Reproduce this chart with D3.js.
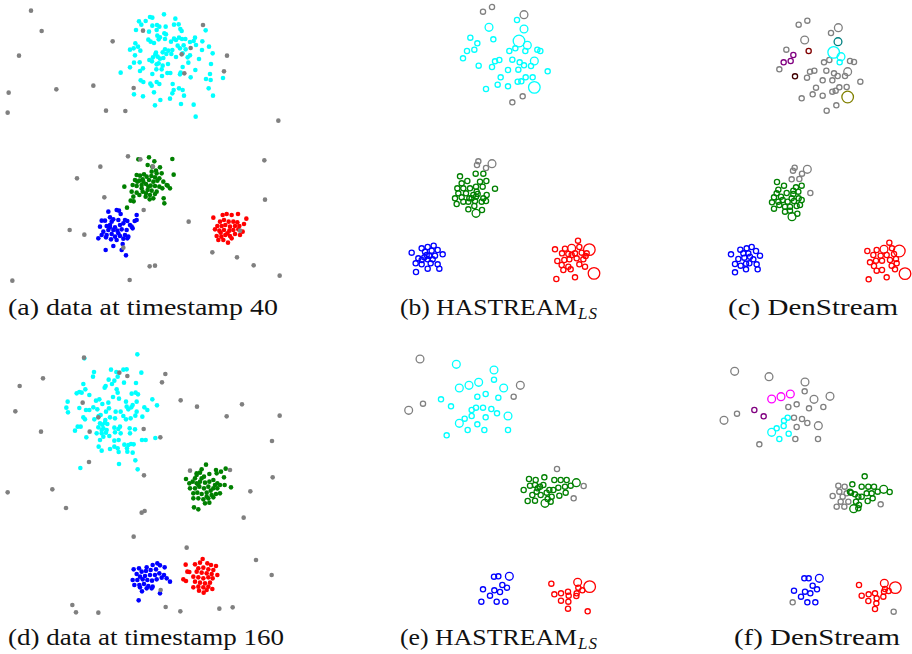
<!DOCTYPE html>
<html>
<head>
    <meta charset="UTF-8">
    <title>HASTREAM vs DenStream</title>
    <script src="https://d3js.org/d3.v7.min.js"></script>
    <style>
        body { margin: 0; background: #fff; }
        svg { font-family: "Liberation Serif", "DejaVu Serif", serif; }
        .cap { font-size: 23px; fill: #111; }
    </style>
</head>
<body>
    <svg></svg>
    <script>
        // all coordinates are in panel units (1 unit = 1/3 px), origin at each panel's top-left

        // ---- (a) data at timestamp 40 ----
        const aCyan = [[492,43],[450,51],[457,53],[526,56],[417,64],[437,63],[424,74],[457,77],[471,75],[478,80],[497,80],[522,74],[536,73],[541,87],[545,93],[408,90],[447,95],[470,90],[493,100],[498,103],[617,91],[472,107],[480,112],[445,119],[452,125],[462,129],[476,118],[495,117],[522,116],[537,113],[546,117],[556,117],[585,113],[513,125],[528,120],[570,126],[581,123],[607,124],[406,130],[414,140],[401,145],[390,149],[421,152],[468,158],[466,163],[488,157],[495,148],[505,152],[517,150],[533,137],[540,145],[551,136],[557,148],[588,135],[627,140],[606,150],[638,160],[405,166],[459,172],[473,170],[480,176],[490,174],[499,162],[514,162],[528,171],[548,160],[563,172],[570,166],[448,180],[456,184],[470,193],[476,190],[488,197],[504,192],[565,188],[597,177],[633,192],[419,187],[402,188],[390,202],[429,205],[420,213],[469,208],[485,208],[502,219],[511,219],[548,201],[542,218],[540,223],[586,210],[362,218],[457,222],[486,228],[572,232],[618,237],[630,222],[632,240],[669,234],[422,241],[430,246],[451,251],[455,257],[470,246],[478,252],[518,252],[521,270],[517,280],[537,265],[548,270],[626,265],[402,283],[429,289],[462,277],[552,287],[639,287],[481,300],[510,296],[465,316],[543,312],[581,314],[587,350]];
        const aGreen = [[415,478],[447,472],[463,484],[517,477],[443,495],[457,500],[480,502],[468,512],[485,520],[521,524],[410,525],[420,527],[432,523],[440,530],[454,528],[465,532],[478,535],[405,540],[418,542],[428,538],[447,540],[460,545],[472,542],[490,545],[503,557],[510,565],[373,560],[398,555],[410,558],[425,555],[438,552],[452,557],[465,558],[478,560],[395,575],[410,578],[428,575],[443,570],[455,572],[470,575],[487,565],[400,590],[418,585],[437,590],[450,585],[460,595],[438,580],[392,602],[401,604],[449,598],[491,595],[493,610],[381,623],[465,582],[430,545],[412,545],[445,560],[500,555],[425,565],[470,520],[455,515]];
        const aBlue = [[325,635],[350,630],[357,632],[410,645],[362,642],[330,652],[340,658],[305,662],[315,662],[335,665],[355,660],[375,660],[382,663],[404,663],[410,660],[300,680],[320,678],[330,682],[345,682],[360,675],[370,670],[390,675],[398,685],[310,695],[325,690],[340,690],[352,692],[365,688],[380,690],[395,680],[305,705],[320,705],[335,702],[345,710],[360,708],[375,705],[385,710],[295,715],[318,712],[333,718],[350,720],[370,716],[382,715],[340,738],[317,750],[365,750],[378,766],[368,732],[330,675],[355,700]];
        const aRed = [[640,653],[668,645],[680,642],[695,645],[714,642],[660,665],[672,660],[686,665],[700,665],[712,667],[739,656],[652,678],[665,678],[676,675],[690,680],[705,678],[718,678],[732,672],[645,688],[658,692],[672,690],[688,692],[700,690],[715,688],[728,695],[650,708],[664,710],[676,705],[690,708],[705,702],[720,705],[655,720],[670,720],[684,728],[695,715],[662,698],[682,700]];
        const aGray = [[93,32],[125,93],[57,167],[26,278],[23,338],[169,268],[280,257],[318,332],[376,333],[401,264],[338,124],[429,92],[609,75],[545,163],[572,144],[553,220],[681,167],[672,214],[835,362],[384,469],[421,478],[301,500],[231,535],[313,592],[431,630],[209,690],[253,704],[370,743],[566,665],[637,757],[711,772],[761,796],[839,827],[793,481],[795,599],[449,799],[465,797],[389,840],[37,842],[720,692],[459,500]];

        // ---- (b) HASTREAM_LS at 40: [x, y, weight] ----
        const bCyan = [[366,60,1],[282,82,2],[387,87,2],[226,113,1],[247,130,1],[295,118,1],[372,123,3],[397,136,2],[238,149,1],[216,153,1],[343,153,1],[361,145,1],[391,153,1],[427,149,1],[436,153,1],[204,175,1],[300,184,1],[313,180,1],[352,179,1],[374,187,1],[418,183,2],[251,197,1],[291,201,1],[387,196,1],[408,198,1],[339,210,1],[370,209,1],[458,214,1],[317,232,1],[392,232,1],[413,232,1],[368,245,1],[379,244,1],[308,254,1],[339,259,1],[273,267,1],[418,262,3]];
        const bGreen = [[195,529,1],[242,521,1],[265,521,1],[200,550,1],[217,543,1],[255,545,1],[274,543,1],[187,565,1],[205,565,1],[225,565,1],[243,560,1],[263,560,1],[300,566,1],[190,580,1],[213,580,1],[235,585,1],[248,582,1],[275,585,1],[180,595,1],[200,592,1],[223,595,1],[243,590,1],[265,595,1],[185,612,1],[205,605,1],[220,605,1],[240,603,1],[260,605,1],[273,603,1],[220,628,1],[238,618,1],[261,630,1],[243,640,2],[245,575,1],[230,595,1]];
        const bBlue = [[80,745,1],[98,741,1],[116,737,1],[50,758,1],[90,755,1],[110,752,1],[128,750,1],[143,763,1],[70,775,1],[88,772,1],[103,768,1],[120,767,1],[80,780,1],[98,778,1],[113,778,1],[62,790,1],[80,793,1],[107,790,1],[128,793,1],[98,806,1],[133,806,1],[63,816,1],[95,765,1]];
        const bRed = [[549,722,1],[480,748,1],[510,746,1],[530,745,2],[553,741,1],[583,749,3],[501,760,1],[520,762,1],[540,760,1],[560,758,1],[575,760,1],[487,783,1],[508,780,1],[523,778,1],[545,775,1],[565,778,1],[572,768,1],[500,795,1],[520,800,1],[553,793,1],[570,800,1],[505,810,1],[527,808,1],[597,820,3],[484,837,1],[540,832,1],[530,765,1]];
        const bGray = [[264,35,1],[291,21,1],[387,44,2],[352,307,1],[383,289,1],[250,484,1],[246,495,1],[273,504,1],[291,491,2]];

        // ---- (c) DenStream at 40 ----
        const cGray = [[266,74,1],[292,62,1],[385,83,2],[363,99,1],[284,120,2],[229,149,1],[208,208,1],[342,187,1],[358,180,1],[420,183,1],[432,186,1],[349,212,1],[372,220,1],[383,228,1],[405,228,1],[413,215,2],[300,215,1],[313,212,1],[291,233,1],[338,241,1],[367,241,1],[451,245,1],[318,263,1],[388,262,1],[410,261,1],[367,275,1],[377,272,1],[308,283,1],[338,287,1],[275,295,1],[379,316,1],[350,332,1],[254,503,1],[249,512,1],[268,537,1],[276,521,1],[292,508,2],[245,538,1],[301,579,1]];
        const cTeal = [[384,125,2]];
        const cMaroon = [[296,153,1]];
        const cPurple = [[250,165,1],[242,183,1],[221,187,1]];
        const cDark = [[255,229,1]];
        const cCyan = [[371,157,3],[393,170,2],[389,187,1]];
        const cOlive = [[413,291,3]];
        const cGreen = [[201,546,1],[222,557,1],[205,569,1],[258,562,1],[275,557,1],[265,575,1],[192,592,1],[213,590,1],[230,579,1],[250,582,1],[245,595,1],[266,595,1],[275,600,1],[186,607,1],[205,605,1],[218,600,1],[233,605,1],[252,603,1],[270,615,1],[192,626,1],[208,615,1],[225,620,1],[240,620,1],[260,618,1],[225,635,1],[240,632,1],[262,641,1],[246,650,2],[200,580,1],[250,572,1]];
        const cBlue = [[63,763,1],[91,749,1],[110,745,1],[125,741,1],[138,753,1],[150,767,1],[85,777,1],[103,773,1],[120,770,1],[130,778,1],[75,792,1],[92,797,1],[108,791,1],[118,790,1],[140,793,1],[108,808,1],[143,808,1],[75,817,1],[100,760,1],[115,760,1]];
        const cRed = [[538,728,1],[472,753,1],[500,750,1],[522,748,2],[546,745,1],[568,753,3],[490,765,1],[512,767,1],[530,765,1],[552,762,1],[480,787,1],[498,782,1],[516,782,1],[540,780,1],[558,777,1],[560,790,1],[492,798,1],[516,810,1],[545,797,1],[555,808,1],[500,812,1],[530,832,1],[476,838,1],[585,821,3]];

        // ---- (d) data at timestamp 160 ----
        const dCyan = [[412,73],[253,85],[282,126],[279,140],[333,119],[349,126],[370,119],[380,118],[424,128],[353,140],[326,149],[343,152],[336,162],[372,158],[408,159],[250,162],[317,168],[314,173],[350,178],[353,188],[230,190],[238,186],[245,188],[256,178],[268,195],[395,191],[407,188],[414,193],[203,215],[288,212],[298,208],[307,222],[325,218],[339,201],[357,206],[378,215],[398,225],[410,215],[457,208],[471,226],[199,233],[238,234],[258,240],[268,240],[280,232],[292,238],[318,245],[327,235],[347,245],[362,245],[380,230],[385,238],[394,232],[410,245],[433,232],[442,240],[204,247],[250,262],[255,268],[283,268],[296,258],[302,255],[316,270],[330,262],[345,265],[370,258],[378,268],[392,265],[406,257],[427,260],[300,280],[307,284],[315,278],[322,282],[295,292],[310,295],[320,300],[343,293],[355,297],[360,290],[389,295],[405,298],[225,302],[233,290],[242,290],[305,310],[318,308],[328,318],[345,307],[362,310],[390,310],[259,322],[300,330],[343,332],[356,330],[373,344],[385,345],[393,342],[401,343],[426,330],[437,330],[466,324],[296,350],[305,362],[330,357],[343,350],[353,355],[356,366],[381,355],[382,365],[398,368],[406,391],[413,418],[357,402],[241,414],[305,300],[290,310],[310,320]];
        const dGreen = [[558,447],[590,435],[600,428],[612,440],[628,432],[650,430],[663,425],[672,442],[674,465],[693,472],[568,460],[578,455],[590,460],[600,455],[615,458],[628,455],[640,450],[652,460],[660,465],[570,475],[585,475],[598,470],[612,475],[625,470],[640,475],[652,475],[580,490],[592,488],[605,492],[620,488],[635,495],[648,492],[660,490],[580,505],[595,505],[610,508],[625,505],[640,502],[615,520],[628,518],[582,532],[595,538],[605,445],[620,500],[618,404],[605,418],[648,420],[677,416],[590,430],[585,445],[595,465],[632,482],[645,465]];
        const dBlue = [[401,718],[417,715],[440,712],[458,705],[472,700],[480,706],[494,712],[410,732],[425,725],[438,723],[452,720],[468,718],[420,740],[435,738],[450,735],[465,735],[478,730],[492,735],[500,745],[398,750],[412,750],[428,748],[442,750],[456,752],[470,748],[485,743],[510,755],[403,765],[418,765],[432,762],[445,768],[458,770],[420,772],[440,775],[426,784],[480,790],[416,811],[455,775]];
        const dRed = [[608,687],[600,698],[622,700],[557,704],[585,703],[633,705],[648,708],[595,715],[610,713],[625,718],[640,720],[562,725],[568,726],[590,725],[605,728],[620,730],[635,732],[652,735],[580,740],[595,742],[610,745],[625,742],[638,745],[550,748],[558,753],[585,755],[600,758],[615,760],[630,758],[595,770],[610,772],[625,770],[637,777],[580,772],[597,782],[611,788],[620,780]];
        const dGray = [[252,83],[129,145],[59,168],[46,244],[123,305],[248,218],[269,305],[295,262],[358,128],[382,138],[496,132],[486,157],[542,211],[591,230],[680,259],[726,223],[839,257],[816,333],[818,442],[431,297],[481,322],[267,396],[432,436],[570,422],[690,420],[23,487],[157,478],[198,534],[425,548],[434,543],[401,620],[560,653],[751,484],[731,563],[768,690],[815,735],[217,825],[228,847],[295,848],[497,831],[541,844],[658,836],[698,832],[482,780]];

        // ---- (e) HASTREAM_LS at 160 ----
        const eCyan = [[184,58,2],[297,75,2],[297,104,1],[193,129,2],[222,121,2],[251,112,2],[326,129,2],[272,147,1],[247,155,1],[310,158,1],[138,163,1],[168,184,1],[243,188,1],[264,188,1],[289,192,1],[230,195,1],[306,205,1],[339,213,2],[209,221,1],[230,213,1],[272,217,1],[193,235,2],[218,255,1],[247,238,1],[268,255,1],[339,255,1],[155,271,1]];
        const eGreen = [[402,402,1],[422,405,1],[448,397,1],[478,405,1],[497,405,1],[515,405,1],[544,413,2],[386,435,1],[405,422,1],[420,420,1],[435,425,1],[445,420,1],[463,435,1],[475,435,1],[490,428,1],[510,425,1],[527,422,1],[412,450,1],[425,440,1],[437,450,1],[455,443,1],[470,455,1],[493,452,1],[512,443,1],[398,468,1],[420,467,1],[450,475,2],[467,470,1],[458,462,1],[428,430,1]];
        const eBlue = [[297,695,1],[310,694,1],[343,694,2],[322,720,1],[336,728,1],[264,733,1],[298,736,1],[315,741,1],[285,752,1],[259,770,1],[305,770,1],[331,770,1]];
        const eRed = [[469,716,1],[548,712,2],[584,725,3],[478,748,1],[498,745,1],[519,740,1],[545,745,1],[562,736,1],[550,728,1],[498,767,1],[521,752,1],[520,770,1],[544,753,1],[519,791,1],[578,799,1]];
        const eGray = [[75,42,2],[376,121,2],[356,155,1],[84,176,1],[41,196,2],[486,372,1],[566,423,1],[536,460,1]];

        // ---- (f) DenStream at 160 ----
        const fGray = [[89,79,2],[192,95,2],[300,111,2],[299,139,1],[327,163,2],[375,154,2],[250,186,1],[275,178,1],[312,190,1],[355,186,1],[96,206,1],[57,226,2],[267,218,1],[291,222,1],[307,234,1],[275,246,1],[340,242,2],[163,298,1],[271,282,1],[339,282,1],[400,422,1],[419,425,1],[383,453,1],[403,440,1],[413,455,1],[425,445,1],[407,470,1],[395,485,1],[418,485,1],[430,470,1],[527,478,1],[263,772,1],[566,800,1]];
        const fMagenta = [[200,162,2],[228,155,2],[256,147,2]];
        const fPurple = [[148,195,1],[176,214,1]];
        const fCyan = [[248,218,1],[237,227,1],[236,243,1],[215,250,1],[200,262,2],[223,282,1],[251,266,1]];
        const fGreen = [[479,394,1],[442,418,1],[470,425,1],[490,425,1],[507,425,1],[536,433,2],[554,441,1],[438,443,1],[450,448,1],[460,455,1],[470,455,1],[485,445,1],[500,445,1],[518,440,1],[453,470,1],[462,480,1],[488,468,1],[503,460,1],[446,491,2],[460,490,1],[435,440,1]];
        const fBlue = [[298,700,1],[311,700,1],[343,700,2],[323,722,1],[336,733,1],[267,737,1],[300,740,1],[316,745,1],[288,755,1],[307,772,1],[331,772,1]];
        const fRed = [[462,720,1],[538,715,2],[571,728,3],[470,752,1],[491,748,1],[510,745,1],[537,740,1],[551,738,1],[540,732,1],[490,768,1],[515,760,1],[514,775,1],[535,755,1],[510,792,1]];

        const captions = ['(a) data at timestamp 40', '(b) HASTREAM', '(c) DenStream',
                          '(d) data at timestamp 160', '(e) HASTREAM', '(f) DenStream'];

        const svg = d3.select('svg').attr('width', 912).attr('height', 654);

        function panel(x0, y0) {
            return {
                x: d3.scaleLinear().domain([0, 870]).range([x0, x0 + 290]),
                y: d3.scaleLinear().domain([0, 870]).range([y0, y0 + 290]),
                g: svg.append('g')
            };
        }
        const r = d3.scaleOrdinal().domain([1, 2, 3]).range([2.6, 3.9, 5.8]);

        function dots(p, data, color) {
            p.g.selectAll(null).data(data).join('circle')
                .attr('cx', d => p.x(d[0])).attr('cy', d => p.y(d[1]))
                .attr('r', 2.3).attr('fill', color);
        }
        function rings(p, data, color) {
            p.g.selectAll(null).data(data).join('circle')
                .attr('cx', d => p.x(d[0])).attr('cy', d => p.y(d[1]))
                .attr('r', d => r(d[2])).attr('fill', 'none')
                .attr('stroke', color).attr('stroke-width', 1.3);
        }

        const pa = panel(0, 0), pb = panel(395, 0), pc = panel(710, 0);
        const pd = panel(0, 330), pe = panel(395, 345), pf = panel(705, 345);

        dots(pa, aCyan, '#00ffff'); dots(pa, aGreen, '#008000'); dots(pa, aBlue, '#0000ff');
        dots(pa, aRed, '#ff0000'); dots(pa, aGray, '#808080');

        rings(pb, bCyan, '#00ffff'); rings(pb, bGreen, '#008000'); rings(pb, bBlue, '#0000ff');
        rings(pb, bRed, '#ff0000'); rings(pb, bGray, '#808080');

        rings(pc, cGray, '#808080'); rings(pc, cTeal, '#008080'); rings(pc, cMaroon, '#800000');
        rings(pc, cPurple, '#800080'); rings(pc, cDark, '#400000'); rings(pc, cCyan, '#00ffff');
        rings(pc, cOlive, '#808000'); rings(pc, cGreen, '#008000'); rings(pc, cBlue, '#0000ff');
        rings(pc, cRed, '#ff0000');

        dots(pd, dCyan, '#00ffff'); dots(pd, dGreen, '#008000'); dots(pd, dBlue, '#0000ff');
        dots(pd, dRed, '#ff0000'); dots(pd, dGray, '#808080');

        rings(pe, eCyan, '#00ffff'); rings(pe, eGreen, '#008000'); rings(pe, eBlue, '#0000ff');
        rings(pe, eRed, '#ff0000'); rings(pe, eGray, '#808080');

        rings(pf, fGray, '#808080'); rings(pf, fMagenta, '#ff00ff'); rings(pf, fPurple, '#800080');
        rings(pf, fCyan, '#00ffff'); rings(pf, fGreen, '#008000'); rings(pf, fBlue, '#0000ff');
        rings(pf, fRed, '#ff0000');

        // captions: start x, baseline y, target width (Computer Modern is wider than our serif)
        const capPos = [[8, 315, 270], [400, 315, 177], [728, 315, 170],
                        [8, 645, 276], [400, 645, 177], [734, 645, 166]];
        captions.forEach((c, i) => {
            const t = svg.append('text').attr('class', 'cap')
                .attr('x', capPos[i][0]).attr('y', capPos[i][1]);
            t.append('tspan').attr('textLength', capPos[i][2])
                .attr('lengthAdjust', 'spacingAndGlyphs').text(c);
            if (c.endsWith('HASTREAM')) {
                t.append('tspan').attr('dx', 1).attr('dy', 4).attr('font-size', '17px')
                    .attr('font-style', 'italic').attr('letter-spacing', '1px').text('LS');
            }
        });
    </script>
</body>
</html>
